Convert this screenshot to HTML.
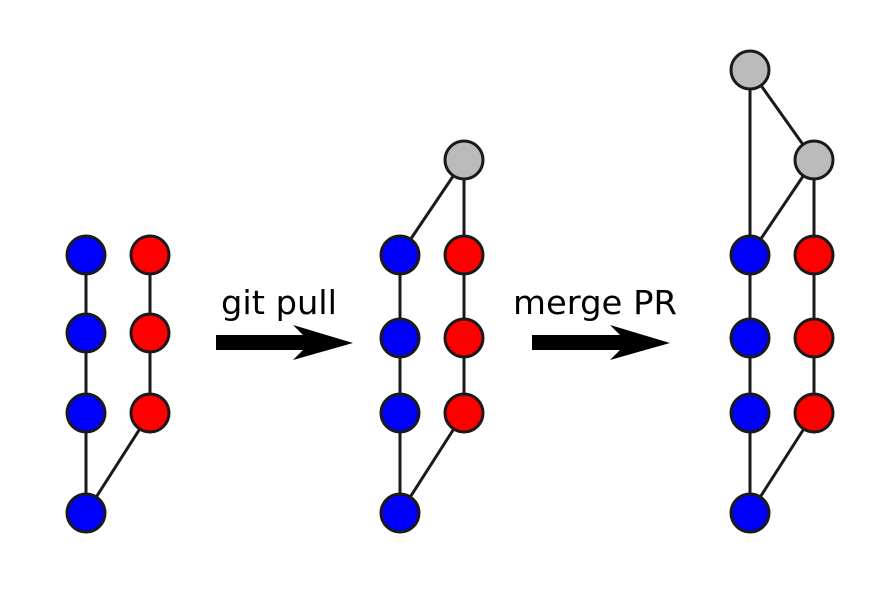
<!DOCTYPE html>
<html><head><style>html,body{margin:0;padding:0;background:#fff}</style></head><body>
<svg width="880" height="593" xmlns="http://www.w3.org/2000/svg">
<g stroke="#1a1a1a" stroke-width="3" fill="none">
<line x1="86" y1="255" x2="86" y2="513"/><line x1="150" y1="255" x2="150" y2="413"/><line x1="150" y1="413" x2="86" y2="513"/>
<line x1="400" y1="255" x2="400" y2="513"/><line x1="464" y1="160" x2="464" y2="413"/><line x1="464" y1="413" x2="400" y2="513"/><line x1="464" y1="160" x2="400" y2="255"/>
<line x1="750" y1="70" x2="750" y2="513"/><line x1="814" y1="160" x2="814" y2="413"/><line x1="814" y1="413" x2="750" y2="513"/><line x1="814" y1="160" x2="750" y2="255"/><line x1="750" y1="70" x2="814" y2="160"/>
</g>
<g stroke="#1a1a1a" stroke-width="3">
<circle cx="86" cy="255" r="19" fill="#0000ff"/><circle cx="86" cy="333" r="19" fill="#0000ff"/><circle cx="86" cy="413" r="19" fill="#0000ff"/><circle cx="86" cy="513" r="19" fill="#0000ff"/>
<circle cx="150" cy="255" r="19" fill="#ff0000"/><circle cx="150" cy="333" r="19" fill="#ff0000"/><circle cx="150" cy="413" r="19" fill="#ff0000"/>
<circle cx="400" cy="255" r="19" fill="#0000ff"/><circle cx="400" cy="338" r="19" fill="#0000ff"/><circle cx="400" cy="413" r="19" fill="#0000ff"/><circle cx="400" cy="513" r="19" fill="#0000ff"/>
<circle cx="464" cy="255" r="19" fill="#ff0000"/><circle cx="464" cy="338" r="19" fill="#ff0000"/><circle cx="464" cy="413" r="19" fill="#ff0000"/><circle cx="464" cy="160" r="19" fill="#bbbbbb"/>
<circle cx="750" cy="255" r="19" fill="#0000ff"/><circle cx="750" cy="338" r="19" fill="#0000ff"/><circle cx="750" cy="413" r="19" fill="#0000ff"/><circle cx="750" cy="513" r="19" fill="#0000ff"/>
<circle cx="814" cy="255" r="19" fill="#ff0000"/><circle cx="814" cy="338" r="19" fill="#ff0000"/><circle cx="814" cy="413" r="19" fill="#ff0000"/><circle cx="814" cy="160" r="19" fill="#bbbbbb"/><circle cx="750" cy="70" r="19" fill="#bbbbbb"/>
</g>
<path d="M216 335 H303 L293 325 L353 343 L293 360 L303 350 H216 Z" fill="#000"/>
<path d="M532 335 H620 L610 325 L670 343 L610 360 L620 350 H532 Z" fill="#000"/>
<g font-family="'DejaVu Sans','Liberation Sans',sans-serif" font-size="33" fill="#000">
<text x="221" y="314" textLength="116" lengthAdjust="spacingAndGlyphs">git pull</text>
<text x="513" y="314" textLength="164" lengthAdjust="spacingAndGlyphs">merge PR</text>
</g>
</svg>
</body></html>
